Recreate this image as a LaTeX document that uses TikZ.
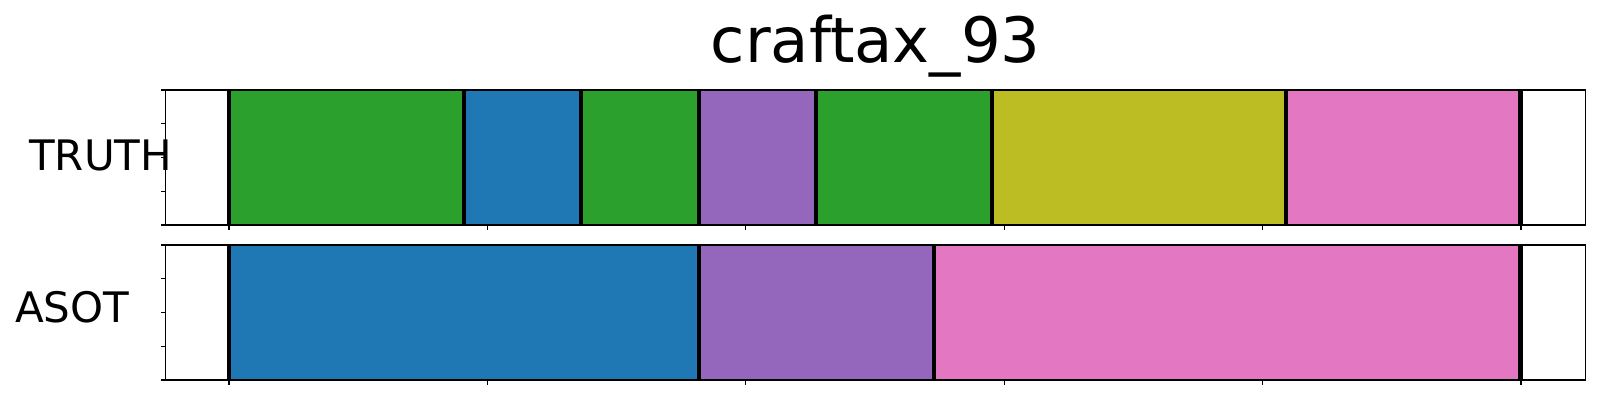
\documentclass[tikz,border=0pt]{standalone}
\usepackage{fontspec}
\setmainfont{DejaVu Sans}
\definecolor{tgreen}{HTML}{2CA02C}
\definecolor{tblue}{HTML}{1F77B4}
\definecolor{tpurple}{HTML}{9467BD}
\definecolor{tolive}{HTML}{BCBD22}
\definecolor{tpink}{HTML}{E377C2}
\tikzset{
  frame/.style={draw=black, line width=1.2pt},
  bound/.style={draw=black, line width=4.5pt},
  tick/.style={draw=black, line width=1.1pt},
  lab/.style={inner sep=0pt, font=\fontsize{42}{50}\selectfont},
  ttl/.style={inner sep=0pt, font=\fontsize{62.5}{72}\selectfont},
}
\begin{document}
\begin{tikzpicture}[x=1pt,y=-1pt]
\useasboundingbox (0,0) rectangle (1600,400);
% title
\node[ttl, anchor=base] (title) at (875.6,62.7) {craftax\_93};
% TRUTH axis
\foreach \a/\b/\c in {229/463.8/tgreen, 463.8/581/tblue, 581/698.8/tgreen, 698.8/816/tpurple, 816/991.8/tgreen, 991.8/1285.8/tolive, 1285.8/1520.5/tpink}
  \filldraw[fill=\c, draw=\c!85!black, line width=1pt] (\a,90) rectangle (\b,225);
\foreach \x in {229,463.8,581,698.8,816,991.8,1285.8,1520.5}
  \draw[bound] (\x,90) -- (\x,225);
\draw[frame] (165.5,90) rectangle (1585.7,225);
\foreach \y in {90,123.75,157.5,191.25,225}
  \draw[tick] (165.5,\y) -- (160.6,\y);
\foreach \x in {229,487.4,745.8,1004.2,1262.6,1521}
  \draw[tick] (\x,225) -- (\x,229.9);
% ASOT axis
\foreach \a/\b/\c in {229/698.8/tblue, 698.8/934.2/tpurple, 934.2/1520.5/tpink}
  \filldraw[fill=\c, draw=\c!85!black, line width=1pt] (\a,245) rectangle (\b,380);
\foreach \x in {229,698.8,934.2,1520.5}
  \draw[bound] (\x,245) -- (\x,380);
\draw[frame] (165.5,245) rectangle (1585.7,380);
\foreach \y in {245,278.75,312.5,346.25,380}
  \draw[tick] (165.5,\y) -- (160.6,\y);
\foreach \x in {229,487.4,745.8,1004.2,1262.6,1521}
  \draw[tick] (\x,380) -- (\x,384.9);
% labels
\node[lab, anchor=base west] (truth) at (29,170) {TRUTH};
\node[lab, anchor=base west] (asot) at (15,322.7) {ASOT};
\end{tikzpicture}
\end{document}
